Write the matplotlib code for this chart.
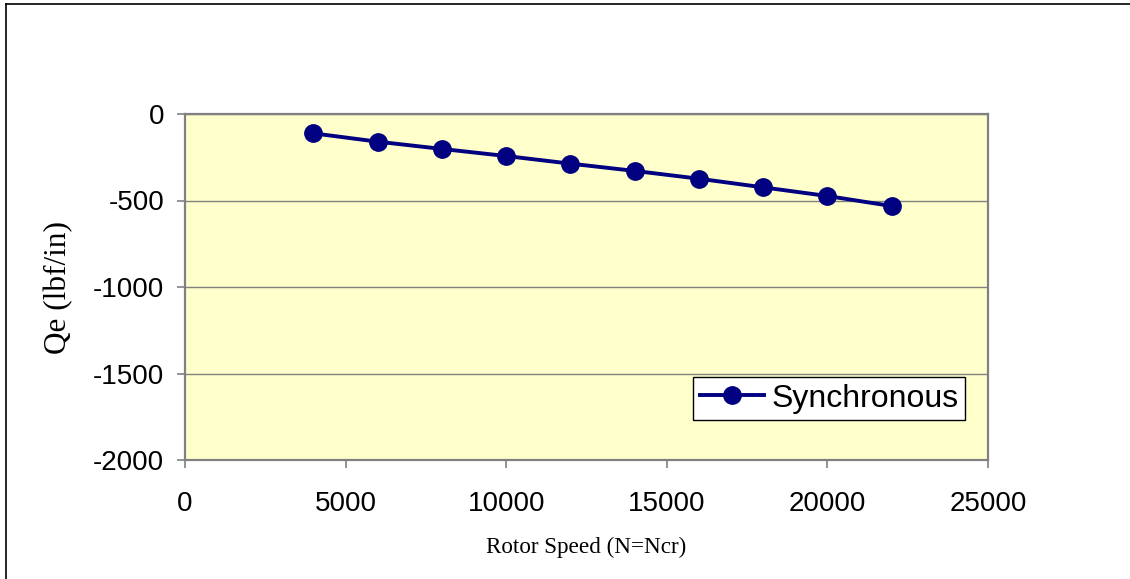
import matplotlib
matplotlib.use("Agg")
import matplotlib.pyplot as plt
import matplotlib.transforms as mtransforms
from matplotlib.lines import Line2D

# rotor speed vs. Qe, synchronous case
speed = [4000, 6000, 8000, 10000, 12000, 14000, 16000, 18000, 20000, 22000]
qe = [-112, -160, -202, -243, -287, -329, -374, -424, -474, -532]

x_ticks = [0, 5000, 10000, 15000, 20000, 25000]
y_ticks = [0, -500, -1000, -1500, -2000]

W, H = 1130, 579
fig = plt.figure(figsize=(W/100, H/100), dpi=100)
ax = fig.add_axes([185/W, 1 - 460/H, (988 - 185)/W, (460 - 114)/H])
ax.set_facecolor("#FFFFCC")

ax.plot(speed, qe, color="#000080", linewidth=2.8, marker="o", markersize=12.5,
        label="Synchronous", zorder=3)

ax.set_xlim(0, 25000)
ax.set_ylim(-2000, 0)
ax.set_xticks(x_ticks, [str(v) for v in x_ticks])
ax.set_yticks(y_ticks, [str(v) for v in y_ticks])
ax.yaxis.grid(True, color="#808080", linewidth=1.0)
ax.set_axisbelow(True)

for s in ax.spines.values():
    s.set_color("#808080")
    s.set_linewidth(1.6)

ax.tick_params(axis="both", direction="out", length=6, width=1.2, color="#808080",
               labelsize=20)
ax.tick_params(axis="y", pad=9)
ax.tick_params(axis="x", pad=16)
for lab in ax.get_xticklabels() + ax.get_yticklabels():
    lab.set_family("Liberation Sans")

ax.set_xlabel("Rotor Speed (N=Ncr)", family="Liberation Serif", fontsize=16.7)
ax.set_ylabel("Qe (lbf/in)", family="Liberation Serif", fontsize=22.5)
ax.xaxis.set_label_coords(0.5, 1 - 537/H,
                          transform=mtransforms.blended_transform_factory(ax.transAxes, fig.transFigure))
ax.yaxis.set_label_coords(73/W, 0.5,
                          transform=mtransforms.blended_transform_factory(fig.transFigure, ax.transAxes))

leg = ax.legend(loc="lower right", bbox_to_anchor=(965/W, 1 - 420/H),
                bbox_transform=fig.transFigure, fancybox=False, framealpha=1,
                edgecolor="black", prop={"family": "Liberation Sans", "size": 23},
                handlelength=2.0, borderpad=0.2, handletextpad=0.25, borderaxespad=0)
leg.get_frame().set_linewidth(1.0)

# outer chart frame
fig.add_artist(Line2D([6/W, 1], [1 - 4/H, 1 - 4/H], color="black", linewidth=1.2))
fig.add_artist(Line2D([6/W, 6/W], [0, 1 - 4/H], color="black", linewidth=1.2))

fig.savefig("out.png", dpi=100)
